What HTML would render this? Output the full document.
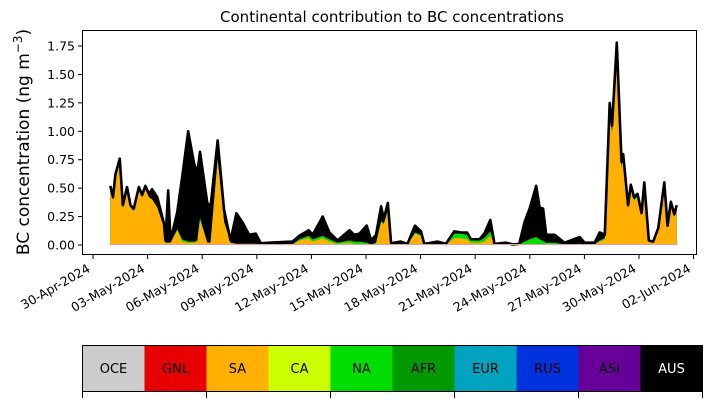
<!DOCTYPE html>
<html><head><meta charset="utf-8"><style>
body{margin:0;background:#fff;font-family:"Liberation Sans","DejaVu Sans",sans-serif}
svg text{font-family:"DejaVu Sans","Liberation Sans",sans-serif}
</style></head><body>
<svg id="c" width="712" height="402" viewBox="0 0 712 402" xmlns="http://www.w3.org/2000/svg">
<text x="392" y="22" font-size="15" text-anchor="middle">Continental contribution to BC concentrations</text>
<text transform="translate(29,142) rotate(-90)" font-size="17" text-anchor="middle">BC concentration (ng m<tspan font-size="12" dy="-7">−3</tspan><tspan dy="7">)</tspan></text>
<g id="plot"></g>
<g id="cbar"></g>
</svg>
<script>
const days=[0.95,1.10,1.23,1.47,1.64,1.87,2.06,2.24,2.52,2.70,2.88,3.07,3.25,3.53,3.90,3.98,4.13,4.26,4.63,4.90,5.23,5.55,5.73,5.88,6.28,6.46,6.85,7.20,7.56,7.88,8.21,8.58,8.94,9.22,9.68,10.96,11.33,11.85,12.07,12.62,12.99,13.44,14.09,14.36,14.64,15.04,15.28,15.55,15.83,15.98,16.20,16.38,16.91,17.28,17.69,18.02,18.20,18.94,19.39,19.85,20.22,20.55,20.77,21.23,21.50,21.83,22.06,22.70,23.07,23.42,23.71,23.99,24.35,24.54,24.73,24.90,25.36,25.91,26.74,27.01,27.56,27.84,28.12,28.39,28.52,28.78,29.04,29.13,29.40,29.55,29.73,29.92,30.14,30.29,30.54,30.78,31.06,31.39,31.57,31.75,31.94,32.07];
const total=[0.52,0.42,0.62,0.76,0.35,0.51,0.35,0.32,0.51,0.44,0.52,0.45,0.49,0.42,0.19,0.04,0.48,0.04,0.29,0.60,1.00,0.72,0.63,0.82,0.37,0.34,0.92,0.31,0.04,0.28,0.20,0.09,0.10,0.015,0.02,0.03,0.08,0.13,0.09,0.25,0.11,0.04,0.13,0.09,0.10,0.17,0.04,0.09,0.34,0.23,0.37,0.015,0.03,0.01,0.17,0.12,0.01,0.03,0.01,0.12,0.11,0.11,0.05,0.05,0.10,0.22,0.01,0.02,0.005,0.01,0.20,0.32,0.52,0.33,0.32,0.09,0.09,0.02,0.07,0.02,0.02,0.11,0.09,1.25,1.05,1.78,0.73,0.80,0.35,0.53,0.42,0.45,0.28,0.55,0.04,0.03,0.15,0.55,0.17,0.38,0.27,0.35];
const sa=[0.48,0.40,0.58,0.72,0.33,0.48,0.33,0.30,0.48,0.42,0.49,0.42,0.40,0.33,0.15,0.02,0.02,0.02,0.13,0.03,0.02,0.02,0.03,0.22,0.02,0.02,0.75,0.20,0.02,0.01,0.01,0.01,0.01,0.005,0.005,0.005,0.04,0.06,0.03,0.06,0.03,0.01,0.02,0.01,0.01,0.01,0.005,0.01,0.20,0.18,0.30,0.005,0.005,0.005,0.10,0.08,0.005,0.005,0.005,0.06,0.06,0.05,0.02,0.02,0.03,0.08,0.005,0.005,0.002,0.005,0.01,0.01,0.01,0.01,0.005,0.01,0.01,0.005,0.01,0.005,0.005,0.03,0.05,1.17,0.98,1.70,0.68,0.75,0.32,0.49,0.39,0.42,0.26,0.51,0.03,0.02,0.13,0.50,0.15,0.35,0.25,0.32];
const na=[0,0,0,0,0,0,0,0,0,0,0,0,0,0,0,0,0,0,0.01,0.02,0.01,0.01,0.01,0.02,0,0,0.01,0.01,0,0,0,0,0,0,0,0,0.01,0.02,0.02,0.02,0.02,0.01,0.02,0.02,0.02,0.01,0,0.01,0.01,0.01,0.01,0,0,0,0.01,0.01,0,0,0,0.04,0.04,0.04,0.02,0.02,0.03,0.04,0,0,0,0,0.02,0.04,0.06,0.04,0.03,0.01,0.01,0,0,0,0,0.01,0.01,0.01,0.01,0.01,0.01,0.01,0.01,0.01,0.01,0.01,0.01,0.01,0,0,0.01,0.02,0.01,0.01,0.01,0.01];
const yTicks=[0,0.25,0.5,0.75,1.0,1.25,1.5,1.75];
const xTickDays=[0,3,6,9,12,15,18,21,24,27,30,33];
const xTickLabels=["30-Apr-2024","03-May-2024","06-May-2024","09-May-2024","12-May-2024","15-May-2024","18-May-2024","21-May-2024","24-May-2024","27-May-2024","30-May-2024","02-Jun-2024"];
const regions=["OCE","GNL","SA","CA","NA","AFR","EUR","RUS","ASI","AUS"];
const regionColors=["#cccccc","#e60000","#ffb000","#ccff00","#00dd00","#009900","#00a3bf","#0033dd","#660099","#000000"];

const NS="http://www.w3.org/2000/svg";
const X=d=>93+18.2*d, Y=v=>245-v*113.7;
const P=document.getElementById('plot');
function mk(tag,at,parent){const e=document.createElementNS(NS,tag);for(const k in at)e.setAttribute(k,at[k]);(parent||P).appendChild(e);return e;}
function area(lo,hi,color,name){
  let d='M'+days.map((t,i)=>X(t)+','+Y(hi[i])).join('L');
  for(let i=days.length-1;i>=0;i--)d+='L'+X(days[i])+','+Y(lo[i]);
  const p=mk('path',{d:d+'Z',fill:color});
  
  
}
const zero=days.map(()=>0);
const saTop=sa.slice(), naTop=sa.map((v,i)=>v+na[i]);
area(zero,total,'#000','area-aus');
area(zero,naTop,'#00dd00','area-na');
area(zero,saTop,'#ffb000','area-sa');
const line=mk('polyline',{points:days.map((t,i)=>X(t)+','+Y(total[i])).join(' '),fill:'none',stroke:'#000','stroke-width':2.6,'stroke-linejoin':'round'});


const base=mk('line',{x1:X(days[0]),x2:X(days[days.length-1]),y1:244.5,y2:244.5,stroke:'#e0a0a0','stroke-width':1});


const fr=mk('rect',{x:82.5,y:30.5,width:614,height:224,fill:'none',stroke:'#000','stroke-width':1});


yTicks.forEach(v=>{
  const l=mk('line',{x1:78,x2:82.5,y1:Y(v),y2:Y(v),stroke:'#000'});
  
  
  const t=mk('text',{x:75,y:Y(v)+4.5,'font-size':12.5,'text-anchor':'end'});
  t.textContent=v.toFixed(2);
  
  
});
xTickDays.forEach((d,i)=>{
  const l=mk('line',{x1:X(d),x2:X(d),y1:254.5,y2:259,stroke:'#000'});
  
  
  const t=mk('text',{transform:`translate(${X(d)-2},${271}) rotate(-30)`,'font-size':12.5,'text-anchor':'end'});
  t.textContent=xTickLabels[i];
  
  
});
const C=document.getElementById('cbar');
const w=62;
regions.forEach((r,i)=>{
  const rc=mk('rect',{x:82.5+i*w,y:345.5,width:w,height:46,fill:regionColors[i]},C);
  
  
  const t=mk('text',{x:82.5+i*w+w/2,y:373,'font-size':13,'text-anchor':'middle',fill:r==='AUS'?'#fff':'#000'},C);
  t.textContent=r;
  
  
});
const cf=mk('rect',{x:82.5,y:345.5,width:620,height:46,fill:'none',stroke:'#000'},C);


for(let i=0;i<=10;i+=2){
  const l=mk('line',{x1:82.5+i*w,x2:82.5+i*w,y1:391.5,y2:398,stroke:'#000'},C);
  
  
}
</script>
</body></html>
